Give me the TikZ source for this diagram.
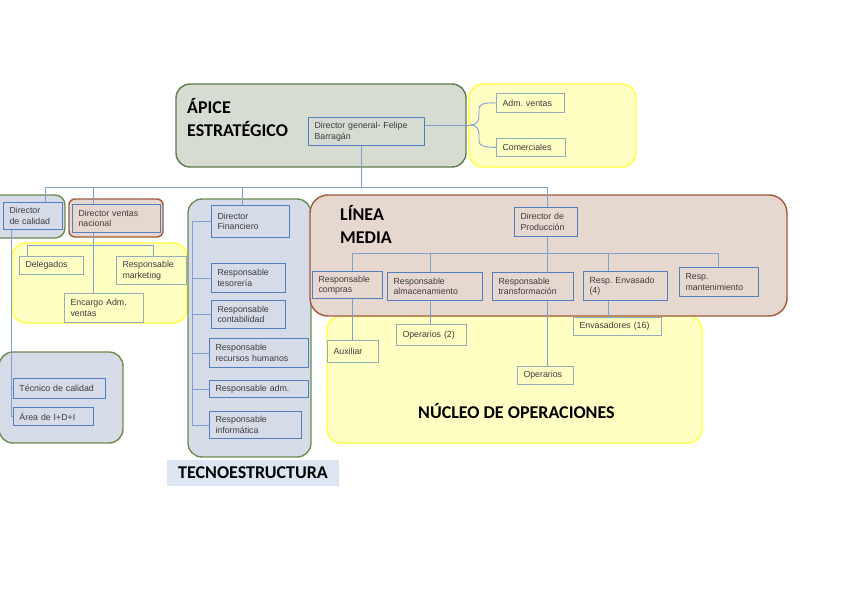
\documentclass[tikz,border=0pt]{standalone}
\usepackage{fontspec}
\setmainfont{Liberation Sans}
\newfontfamily\titlefont{Carlito}
\usetikzlibrary{positioning}
\frenchspacing

\definecolor{apexfill}{HTML}{D7DCD2}
\definecolor{apexdraw}{HTML}{5E7D4C}
\definecolor{bluefill}{HTML}{D5DCE8}
\definecolor{greendraw}{HTML}{6C8C50}
\definecolor{brownfill}{HTML}{E7D8CF}
\definecolor{browndraw}{HTML}{A05A3A}
\definecolor{yellowfill}{HTML}{FFFFC4}
\definecolor{yellowdraw}{HTML}{FFFF3C}
\definecolor{unitblue}{HTML}{4F7FC0}
\definecolor{unitgray}{HTML}{93ADB9}
\definecolor{linkblue}{HTML}{7F9FD2}
\definecolor{labelfill}{HTML}{DCE5F2}
\definecolor{textgray}{HTML}{3C3C3C}

\begin{document}
\begin{tikzpicture}[
  x=1pt, y=-1pt,
  font=\fontsize{8.8}{10.5}\selectfont,
  zone/.style={line width=1.4pt, rounded corners=14pt},
  apexzone/.style={zone, draw=apexdraw, fill=apexfill},
  staffzone/.style={zone, draw=greendraw, fill=bluefill},
  midzone/.style={zone, draw=browndraw, fill=brownfill, rounded corners=18pt},
  opzone/.style={zone, draw=yellowdraw, fill=yellowfill},
  orgunit/.style={draw=unitblue, line width=1pt, rectangle, anchor=north west, align=left, inner xsep=6pt, inner ysep=2pt, text=textgray},
  opunit/.style={orgunit, draw=unitgray},
  zonetitle/.style={font=\titlefont\fontsize{18}{23}\selectfont\bfseries, align=left, inner sep=0pt},
  link/.style={draw=linkblue, line width=0.9pt}
]
  \useasboundingbox (0,0) rectangle (848,599);

  % Zonas de la organizacion
  \draw[apexzone] (176,84) rectangle (466,167);
  \draw[opzone] (469,84) rectangle (636,167);
  \draw[staffzone, rounded corners=10pt] (-20,195) rectangle (65,238);
  \draw[opzone] (12,243) rectangle (187,323);
  \draw[midzone, rounded corners=6pt] (69,199) rectangle (163,237);
  \draw[staffzone] (188,199) rectangle (311,457);
  \draw[staffzone] (-1,352) rectangle (123,443);
  \draw[opzone] (327,316) rectangle (702,443);
  \draw[midzone] (310,195) rectangle (787,316);

  \node[zonetitle, anchor=north west] (apextitle) at (187,98.5) {ÁPICE\\ESTRATÉGICO};
  \node[zonetitle, anchor=north west] (midtitle) at (340,205.5) {LÍNEA\\MEDIA};
  \node[zonetitle, anchor=base west] (optitle) at (418,418) {NÚCLEO DE OPERACIONES};
  \node[zonetitle, fill=labelfill, minimum width=172pt, minimum height=26pt] (tecnolabel) at (253,473) {TECNOESTRUCTURA};

  % Puestos
  \node[orgunit, text width=104pt, minimum height=28pt] (dg) at (308,117) {Director general- Felipe\\Barragán};
  \node[opunit, text width=56pt, minimum height=19pt] (admventas) at (496,93) {Adm. ventas};
  \node[opunit, text width=57pt, minimum height=18pt] (comerciales) at (496,138) {Comerciales};

  \node[orgunit, text width=47pt, minimum height=27pt] (calidad) at (3,202) {Director\\de calidad};
  \node[orgunit, text width=76pt, minimum height=28pt] (ventasnac) at (72,204) {Director ventas\\nacional};
  \node[opunit, text width=52pt, minimum height=18pt] (delegados) at (19,256) {Delegados};
  \node[opunit, text width=58pt, minimum height=28pt] (marketing) at (116,256) {Responsable\\marketing};
  \node[opunit, text width=67pt, minimum height=29pt] (encargo) at (64,293) {Encargo Adm.\\ventas};
  \node[orgunit, text width=80pt, minimum height=20pt] (tecnico) at (13,378) {Técnico de calidad};
  \node[orgunit, text width=68pt, minimum height=18pt] (area) at (13,407) {Área de I+D+I};

  \node[orgunit, text width=66pt, minimum height=32pt] (financiero) at (211,205) {Director\\Financiero};
  \node[orgunit, text width=62pt, minimum height=29pt] (tesoreria) at (211,263) {Responsable\\tesorería};
  \node[orgunit, text width=62pt, minimum height=28pt] (contabilidad) at (211,300) {Responsable\\contabilidad};
  \node[orgunit, text width=87pt, minimum height=29pt] (rrhh) at (209,338) {Responsable\\recursos humanos};
  \node[orgunit, text width=87pt, minimum height=17pt] (admon) at (209,380) {Responsable adm.};
  \node[orgunit, text width=80pt, minimum height=27pt] (informatica) at (209,411) {Responsable\\informática};

  \node[orgunit, text width=51pt, minimum height=29pt] (produccion) at (514,207) {Director de\\Producción};
  \node[orgunit, text width=58pt, minimum height=27pt] (compras) at (312,271) {Responsable\\compras};
  \node[orgunit, text width=83pt, minimum height=28pt] (almacen) at (387,272) {Responsable\\almacenamiento};
  \node[orgunit, text width=69pt, minimum height=28pt] (transf) at (492,272) {Responsable\\transformación};
  \node[orgunit, text width=72pt, minimum height=29pt] (envasado) at (583,271) {Resp. Envasado\\(4)};
  \node[orgunit, text width=67pt, minimum height=29pt] (mant) at (679,267) {Resp.\\mantenimiento};
  \node[opunit, text width=39pt, minimum height=22pt] (auxiliar) at (327,340) {Auxiliar};
  \node[opunit, text width=58pt, minimum height=21pt] (operarios2) at (396,324) {Operarios (2)};
  \node[opunit, text width=44pt, minimum height=18pt] (operarios) at (517,366) {Operarios};
  \node[opunit, text width=76pt, minimum height=18pt] (envasadores) at (573,317) {Envasadores (16)};

  % Llave hacia ventas
  \coordinate (brace) at (470,125);
  \draw[link] (dg.east |- brace) -- (brace);
  \draw[link] (brace) .. controls (478,125) and (479,120) .. (479,114) -- (479,109) .. controls (479,104) and (484,102.5) .. (admventas.west);
  \draw[link] (brace) .. controls (478,125) and (479,130) .. (479,136) -- (479,141) .. controls (479,146) and (484,147) .. (comerciales.west);

  % Linea principal
  \coordinate (b0) at (361,187);
  \coordinate (b1) at (45,187);
  \coordinate (b2) at (93,187);
  \coordinate (b3) at (242,187);
  \coordinate (b4) at (547,187);
  \draw[link] (b0 |- dg.south) -- (b0);
  \draw[link] (b1 |- calidad.north) -- (b1) -- (b4) -- (b4 |- produccion.north);
  \draw[link] (b2) -- (b2 |- ventasnac.north);
  \draw[link] (b3) -- (b3 |- financiero.north);

  % Calidad y ventas
  \draw[link] ([xshift=8pt]calidad.south west) |- (tecnico.west);
  \draw[link] ([xshift=8pt]calidad.south west) |- (area.west);
  \coordinate (v1) at (27,245);
  \coordinate (v2) at (153,245);
  \draw[link] (b2 |- ventasnac.south) -- (b2 |- encargo.north);
  \draw[link] (v1 |- delegados.north) -- (v1) -- (v2) -- (v2 |- marketing.north);

  % Tecnoestructura
  \foreach \n in {tesoreria,contabilidad,rrhh,admon,informatica}
    \draw[link] (financiero.west) -- ++(-19,0) |- (\n.west);

  % Linea media y nucleo
  \coordinate (m1) at (352,253);
  \coordinate (m2) at (430,253);
  \coordinate (m3) at (547,253);
  \coordinate (m4) at (608,253);
  \coordinate (m5) at (718,253);
  \draw[link] (produccion.south -| m3) -- (m3);
  \draw[link] (m1 |- compras.north) -- (m1) -- (m5) -- (m5 |- mant.north);
  \draw[link] (m2) -- (m2 |- almacen.north);
  \draw[link] (m3) -- (m3 |- transf.north);
  \draw[link] (m4) -- (m4 |- envasado.north);
  \draw[link] (m1 |- compras.south) -- (m1 |- auxiliar.north);
  \draw[link] (m2 |- almacen.south) -- (m2 |- operarios2.north);
  \draw[link] (m3 |- transf.south) -- (m3 |- operarios.north);
  \draw[link] (m4 |- envasado.south) -- (m4 |- envasadores.north);
\end{tikzpicture}
\end{document}
